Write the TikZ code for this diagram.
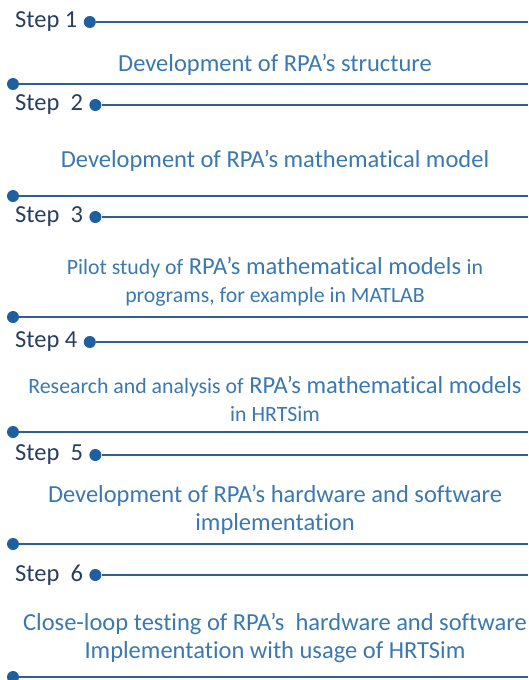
\documentclass[tikz,border=0pt]{standalone}
\usepackage{fontspec}
\setmainfont{Carlito}[Ligatures={TeX,NoCommon}]
\usetikzlibrary{positioning}
\definecolor{stepnavy}{HTML}{283E5E}
\definecolor{lineblue}{HTML}{2F5F8F}
\definecolor{dotblue}{HTML}{1F5FA0}
\definecolor{textblue}{HTML}{3A78B0}
\newcommand{\lesstxt}[1]{{\fontsize{21.8}{28}\selectfont #1}}

\begin{document}
\begin{tikzpicture}[x=1pt,y=-1pt,
        steplabel/.style={anchor=west,inner sep=0pt,text=stepnavy,font=\fontsize{24.5}{28}\selectfont},
        stepdot/.style={circle,fill=dotblue,inner sep=0pt,minimum size=12pt},
        stepline/.style={draw=lineblue,line width=1.9pt},
        stagetext/.style={align=center,text=textblue,font=\fontsize{24.5}{28}\selectfont},
    ]
        \useasboundingbox (0,0) rectangle (528,680);
        % step headers and closing lines
        \foreach \n/\lab/\y/\yb in {1/{Step 1}/22/84, 2/{Step~~2}/105/196, 3/{Step~~3}/217/317,
                4/{Step 4}/342/432, 5/{Step~~5}/455/544, 6/{Step~~6}/575/677} {
            \node[steplabel] (s\n) at (15,\y) {\lab};
            \node[stepdot,right=6pt of s\n] (d\n) {};
            \coordinate (e\n) at (528,\y);
            \draw[stepline] (d\n) -- (e\n);
            \node[stepdot] (b\n) at (13,\yb) {};
            \coordinate (f\n) at (528,\yb);
            \draw[stepline] (b\n) -- (f\n);
        }
        % stages
        \node[stagetext] (t1) at (275,65) {Development of RPA's structure};
        \node[stagetext] (t2) at (275,161) {Development of RPA's mathematical model};
        \node[stagetext] (t3) at (275,282) {\lesstxt{Pilot study of} RPA's mathematical models \lesstxt{in}\\
            \lesstxt{programs, for example in MATLAB}};
        \node[stagetext] (t4) at (275,399) {\lesstxt{Research and analysis of} RPA's mathematical models\\
            \lesstxt{in HRTSim}};
        \node[stagetext] (t5) at (275,510) {Development of RPA's hardware and software\\implementation};
        \node[stagetext] (t6) at (275,638) {Close-loop testing of RPA's~ hardware and software\\
            Implementation with usage of HRTSim};
    \end{tikzpicture}
\end{document}
